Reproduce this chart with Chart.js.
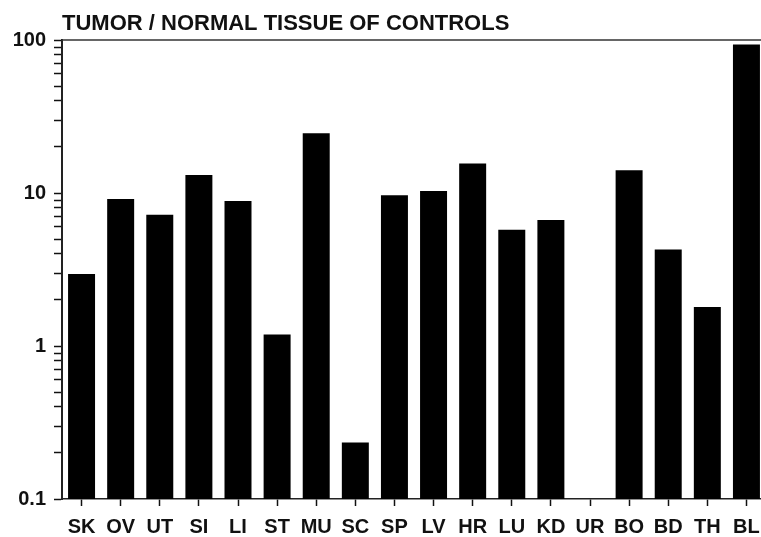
<!DOCTYPE html>
<html>
<head>
<meta charset="utf-8">
<script src="https://cdn.jsdelivr.net/npm/chart.js@4/dist/chart.umd.min.js"></script>
<style>
  html, body { margin: 0; padding: 0; background: #fff; overflow: hidden; }
  #wrap { width: 780px; height: 537px; position: relative; }
</style>
</head>
<body>
<div id="wrap"><canvas id="c"></canvas></div>
<script>
// Tissue abbreviations along the bottom axis
const tissues = ['SK', 'OV', 'UT', 'SI', 'LI', 'ST', 'MU', 'SC', 'SP', 'LV', 'HR', 'LU', 'KD', 'UR', 'BO', 'BD', 'TH', 'BL'];

// Tumor / normal tissue ratio for each tissue (UR has no bar)
const ratios = [2.95, 9.15, 7.2, 13.1, 8.85, 1.19, 24.6, 0.234, 9.65, 10.3, 15.6, 5.75, 6.65, null, 14.1, 4.28, 1.8, 93.5];

// Labelled decades on the logarithmic value axis
const decadeLabels = [0.1, 1, 10, 100];

const chartTitle = 'TUMOR / NORMAL TISSUE OF CONTROLS';

// Tick marks: 1..9 within each decade from 0.1 to 100
const logTicks = [];
for (let e = -1; e <= 1; e++) {
  for (let m = 1; m <= 9; m++) logTicks.push(+(m * Math.pow(10, e)).toFixed(3));
}
logTicks.push(100);

const ink = '#111';
const font = { family: '"Liberation Sans", Arial, Helvetica, sans-serif', weight: 'bold' };

const frameAndTitle = {
  id: 'frameAndTitle',
  afterDraw(chart) {
    const { ctx, chartArea } = chart;
    ctx.save();
    ctx.strokeStyle = '#333';
    ctx.lineWidth = 1.5;
    ctx.beginPath();
    ctx.moveTo(chartArea.left, chartArea.top);
    ctx.lineTo(chartArea.right, chartArea.top);
    ctx.stroke();
    ctx.fillStyle = ink;
    ctx.font = 'bold 22px "Liberation Sans", Arial, sans-serif';
    ctx.textBaseline = 'alphabetic';
    ctx.textAlign = 'left';
    ctx.fillText(chartTitle, chartArea.left, 30);
    ctx.restore();
  }
};

new Chart(document.getElementById('c'), {
  type: 'bar',
  data: {
    labels: tissues,
    datasets: [{
      data: ratios,
      backgroundColor: '#000',
      borderWidth: 0,
      barPercentage: 0.69,
      categoryPercentage: 1.0
    }]
  },
  options: {
    responsive: true,
    maintainAspectRatio: false,
    animation: false,
    layout: { padding: { top: 40, right: 14, left: 0, bottom: 0 } },
    plugins: { legend: { display: false }, title: { display: false }, tooltip: { enabled: false } },
    scales: {
      x: {
        offset: true,
        grid: { display: true, drawOnChartArea: false, offset: false, tickLength: 7, tickColor: ink, tickWidth: 1.5 },
        border: { display: true, color: '#222', width: 1.5 },
        ticks: { color: ink, font: { ...font, size: 20 }, padding: 9, maxRotation: 0, autoSkip: false },
        afterFit(scale) { scale.height = 38; }
      },
      y: {
        type: 'logarithmic',
        min: 0.1,
        max: 100,
        afterBuildTicks(scale) { scale.ticks = logTicks.map(v => ({ value: v })); },
        grid: { display: true, drawOnChartArea: false, tickLength: 8, tickColor: ink, tickWidth: 1.5 },
        border: { display: true, color: '#222', width: 2 },
        ticks: {
          color: ink,
          font: { ...font, size: 20 },
          padding: 8,
          autoSkip: false,
          callback(value) {
            const v = Number(value);
            const hit = decadeLabels.find(d => Math.abs(d - v) < 1e-9);
            return hit === undefined ? '' : String(hit);
          }
        },
        afterFit(scale) { scale.width = 62; }
      }
    }
  },
  plugins: [frameAndTitle]
});
</script>
</body>
</html>
